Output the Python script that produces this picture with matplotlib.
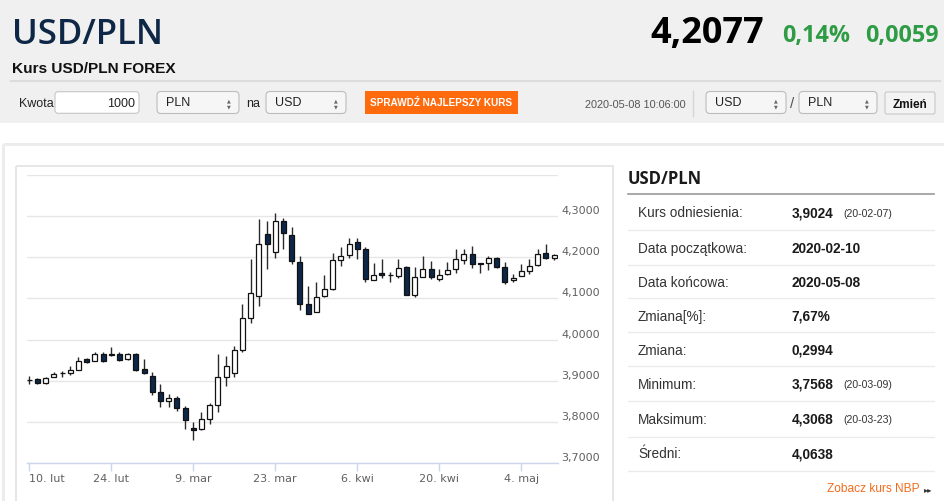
import matplotlib
matplotlib.use("Agg")
import matplotlib.pyplot as plt
from matplotlib.patches import Rectangle, FancyBboxPatch
import numpy as np
import pandas as pd

# trading days shown on the chart (weekdays 10 Feb - 8 May 2020)
dates = pd.bdate_range("2020-02-10", "2020-05-08")
month_pl = {2: "lut", 3: "mar", 4: "kwi", 5: "maj"}

opens = [3.902, 3.904, 3.894, 3.910, 3.918, 3.918, 3.927, 3.952, 3.949, 3.966,
         3.964, 3.964, 3.953, 3.965, 3.928, 3.912, 3.872, 3.850, 3.858, 3.833,
         3.784, 3.782, 3.808, 3.842, 3.910, 3.918, 3.975, 4.052, 4.105, 4.256,
         4.213, 4.288, 4.255, 4.189, 4.086, 4.068, 4.106, 4.122, 4.193, 4.206,
         4.238, 4.219, 4.146, 4.161, 4.156, 4.155, 4.177, 4.108, 4.153, 4.171,
         4.148, 4.159, 4.171, 4.193, 4.207, 4.187, 4.185, 4.198, 4.176, 4.144,
         4.155, 4.167, 4.181, 4.210, 4.199]
highs = [3.912, 3.907, 3.909, 3.922, 3.924, 3.935, 3.958, 3.956, 3.970, 3.970,
         3.981, 3.971, 3.968, 3.968, 3.952, 3.922, 3.892, 3.868, 3.862, 3.839,
         3.800, 3.825, 3.846, 3.964, 3.959, 3.985, 4.086, 4.197, 4.294, 4.287,
         4.307, 4.296, 4.274, 4.204, 4.130, 4.140, 4.158, 4.211, 4.225, 4.248,
         4.248, 4.225, 4.187, 4.196, 4.165, 4.197, 4.178, 4.177, 4.203, 4.191,
         4.172, 4.189, 4.219, 4.219, 4.227, 4.187, 4.203, 4.200, 4.189, 4.159,
         4.183, 4.197, 4.219, 4.232, 4.207]
lows = [3.893, 3.891, 3.892, 3.908, 3.909, 3.915, 3.926, 3.943, 3.947, 3.946,
        3.959, 3.949, 3.950, 3.923, 3.916, 3.865, 3.837, 3.837, 3.826, 3.782,
        3.757, 3.780, 3.795, 3.823, 3.888, 3.908, 3.971, 4.041, 4.082, 4.171,
        4.199, 4.219, 4.183, 4.072, 4.061, 4.066, 4.104, 4.120, 4.179, 4.199,
        4.197, 4.139, 4.145, 4.149, 4.139, 4.150, 4.109, 4.104, 4.152, 4.148,
        4.143, 4.158, 4.163, 4.183, 4.175, 4.161, 4.169, 4.175, 4.136, 4.139,
        4.155, 4.159, 4.179, 4.197, 4.194]
closes = [3.902, 3.894, 3.906, 3.916, 3.918, 3.926, 3.948, 3.945, 3.966, 3.948,
          3.962, 3.951, 3.965, 3.925, 3.918, 3.872, 3.850, 3.858, 3.833, 3.804,
          3.779, 3.807, 3.840, 3.910, 3.936, 3.975, 4.052, 4.112, 4.233, 4.232,
          4.288, 4.258, 4.190, 4.086, 4.062, 4.104, 4.122, 4.194, 4.202, 4.233,
          4.219, 4.147, 4.158, 4.156, 4.157, 4.173, 4.109, 4.153, 4.172, 4.151,
          4.156, 4.168, 4.195, 4.207, 4.183, 4.183, 4.198, 4.176, 4.140, 4.149,
          4.167, 4.179, 4.207, 4.199, 4.205]

y_ticks = [3.7, 3.8, 3.9, 4.0, 4.1, 4.2, 4.3, 4.4]
x_tick_step = 10

stat_labels = ["Kurs odniesienia:", "Data początkowa:", "Data końcowa:", "Zmiana[%]:",
               "Zmiana:", "Minimum:", "Maksimum:", "Średni:"]
stat_values = ["3,9024", "2020-02-10", "2020-05-08", "7,67%", "0,2994",
               "3,7568", "4,3068", "4,0638"]
stat_dates = ["(20-02-07)", "", "", "", "", "(20-03-09)", "(20-03-23)", ""]

W, H = 945, 502
PX = 0.72  # points per pixel at 100 dpi
SANS = ["Liberation Sans", "DejaVu Sans"]
OPEN = ["Open Sans", "DejaVu Sans"]

fig = plt.figure(figsize=(W / 100, H / 100), dpi=100)
fig.patch.set_facecolor("white")

# page layer in pixel coordinates (y down)
bg = fig.add_axes([0, 0, 1, 1])
bg.set_xlim(0, W)
bg.set_ylim(H, 0)
bg.axis("off")

bg.add_patch(Rectangle((0, 0), W, 124, fc="#f0f0f0", ec="none"))
bg.text(12, 43.5, "USD/PLN", family=OPEN, weight="semibold", fontsize=25,
        color="#0f2746", va="baseline")
bg.text(764, 43.5, "4,2077", family=OPEN, weight="bold", fontsize=26,
        color="#000000", ha="right", va="baseline")
bg.text(782, 41.7, "0,14%", family=OPEN, weight="bold", fontsize=16.8,
        color="#2e9b45", va="baseline")
bg.text(939, 41.7, "0,0059", family=OPEN, weight="bold", fontsize=16.8,
        color="#2e9b45", ha="right", va="baseline")
bg.text(12, 72.7, "Kurs USD/PLN FOREX", family=SANS, weight="bold", fontsize=11.05,
        color="#111111", va="baseline")
bg.plot([11, 940], [81.7, 81.7], color="#dcdcdc", lw=1.5)


def box(x0, x1, y0, y1, fc, ec, r=4):
    bg.add_patch(FancyBboxPatch((x0, y0), x1 - x0, y1 - y0,
                                boxstyle=f"round,pad=0,rounding_size={r}",
                                fc=fc, ec=ec, lw=0.8))


def select(x0, x1, label):
    box(x0, x1, 92.5, 114.5, "#f6f6f6", "#bcbcbc")
    bg.text(x0 + 9, 103.5, label, family=SANS, fontsize=9, color="#222222", va="center")
    bg.text(x1 - 10, 100.5, "▲", family="DejaVu Sans", fontsize=3.5, color="#666666",
            ha="center", va="center")
    bg.text(x1 - 10, 106.5, "▼", family="DejaVu Sans", fontsize=3.5, color="#666666",
            ha="center", va="center")


bg.text(19, 104, "Kwota", family=SANS, fontsize=9, color="#222222", va="center")
box(55, 139, 92.7, 114.3, "white", "#c6c6c6", r=3)
bg.text(135, 104, "1000", family=SANS, fontsize=9, color="#222222", ha="right", va="center")
select(157, 239, "PLN")
bg.text(246, 104, "na", family=SANS, fontsize=9, color="#222222", va="center")
select(266, 346, "USD")
bg.add_patch(Rectangle((365, 92), 153, 23, fc="#ff6a0d", ec="none"))
bg.text(441.5, 103.5, "SPRAWDŹ NAJLEPSZY KURS", family=SANS, weight="bold",
        fontsize=7.2, color="white", ha="center", va="center")
bg.text(585, 105, "2020-05-08 10:06:00", family=SANS, fontsize=7.8, color="#555555",
        va="center")
bg.plot([693, 693], [92, 117], color="#d6d6d6", lw=1)
select(706, 786, "USD")
bg.text(792, 104, "/", family=SANS, fontsize=11, color="#555555", ha="center", va="center")
select(799, 877, "PLN")
box(885, 935, 93, 115, "#f3f3f3", "#c8c8c8", r=2)
bg.text(910, 104.5, "Zmień", family=SANS, weight="bold", fontsize=8.5, color="#111111",
        ha="center", va="center")

# card frames
bg.add_patch(Rectangle((3, 144.5), W, 400, fill=False, ec="#ececec", lw=3 * PX))
bg.add_patch(Rectangle((16, 167), 597, 400, fill=False, ec="#e6e6e6", lw=2 * PX))

# stats panel
bg.text(628, 179.5, "USD/PLN", family=OPEN, weight="bold", fontsize=12, color="#1a1a1a",
        va="center")
bg.plot([628, 934], [195, 195], color="#9a9a9a", lw=1.2)
row_y = [213.5, 249, 283.3, 316.7, 350.7, 385, 420, 454.3]
sep_y = [231, 265.7, 299.3, 333.3, 367.3, 402.3, 438.3, 472.3]
for yy, lab, val, dt in zip(row_y, stat_labels, stat_values, stat_dates):
    bg.text(638, yy, lab, family=SANS, fontsize=9.8, color="#333333", va="center")
    bg.text(791.5, yy, val, family=SANS, weight="bold", fontsize=9.8, color="#1a1a1a",
            va="center")
    if dt:
        bg.text(843, yy + 0.5, dt, family=SANS, fontsize=7.6, color="#333333", va="center")
for yy in sep_y:
    bg.plot([628, 934], [yy, yy], color="#ebebeb", lw=1)
bg.text(920, 489.5, "Zobacz kurs NBP", family=SANS, fontsize=8.6, color="#f26b1d",
        ha="right", va="center")
bg.text(928, 489.5, "▸▸", family="DejaVu Sans", fontsize=6, color="#333333",
        ha="center", va="center")

# candlestick chart
ax = fig.add_axes([27 / W, (H - 464) / H, 531 / W, 288 / H])
ax.set_facecolor("white")
o = np.array(opens)
hi = np.array(highs)
lo = np.array(lows)
c = np.array(closes)
x = np.arange(len(dates))
up = c >= o

ax.vlines(x, lo, hi, color="#2a2a2a", lw=1, zorder=2)
ax.bar(x, np.maximum(np.abs(c - o), 0.0006), 0.6, bottom=np.minimum(o, c),
       color=np.where(up, "white", "#0c2749"), edgecolor="#111111", linewidth=0.9, zorder=3)

ax.set_xlim(-0.28, 64.48)
ax.set_ylim(y_ticks[0], y_ticks[-1])
ax.set_yticks(y_ticks)
ax.yaxis.grid(True, color="#e6e6e6", lw=1)
ax.set_axisbelow(True)
ax.tick_params(axis="y", length=0, labelleft=False, labelright=False)
for v in y_ticks[:-1]:
    ax.annotate(f"{v:.4f}".replace(".", ","), xy=(1, v),
                xycoords=("axes fraction", "data"), xytext=(3 * PX, 1 * PX),
                textcoords="offset points", ha="left", va="bottom",
                fontsize=8, color="#606060", family="DejaVu Sans", annotation_clip=False)

tick_idx = list(range(0, len(dates), x_tick_step))
ax.set_xticks(tick_idx)
ax.set_xticklabels([f"{dates[i].day}. {month_pl[dates[i].month]}" for i in tick_idx],
                   family="DejaVu Sans")
ax.tick_params(axis="x", length=8 * PX, width=1, color="#ccd6eb", pad=1.5,
               labelsize=8, labelcolor="#606060")
ax.get_xticklabels()[0].set_ha("left")
for side in ["top", "right", "left"]:
    ax.spines[side].set_visible(False)
ax.spines["bottom"].set_color("#ccd6eb")
ax.spines["bottom"].set_linewidth(1)

fig.savefig("out.png", dpi=100)
